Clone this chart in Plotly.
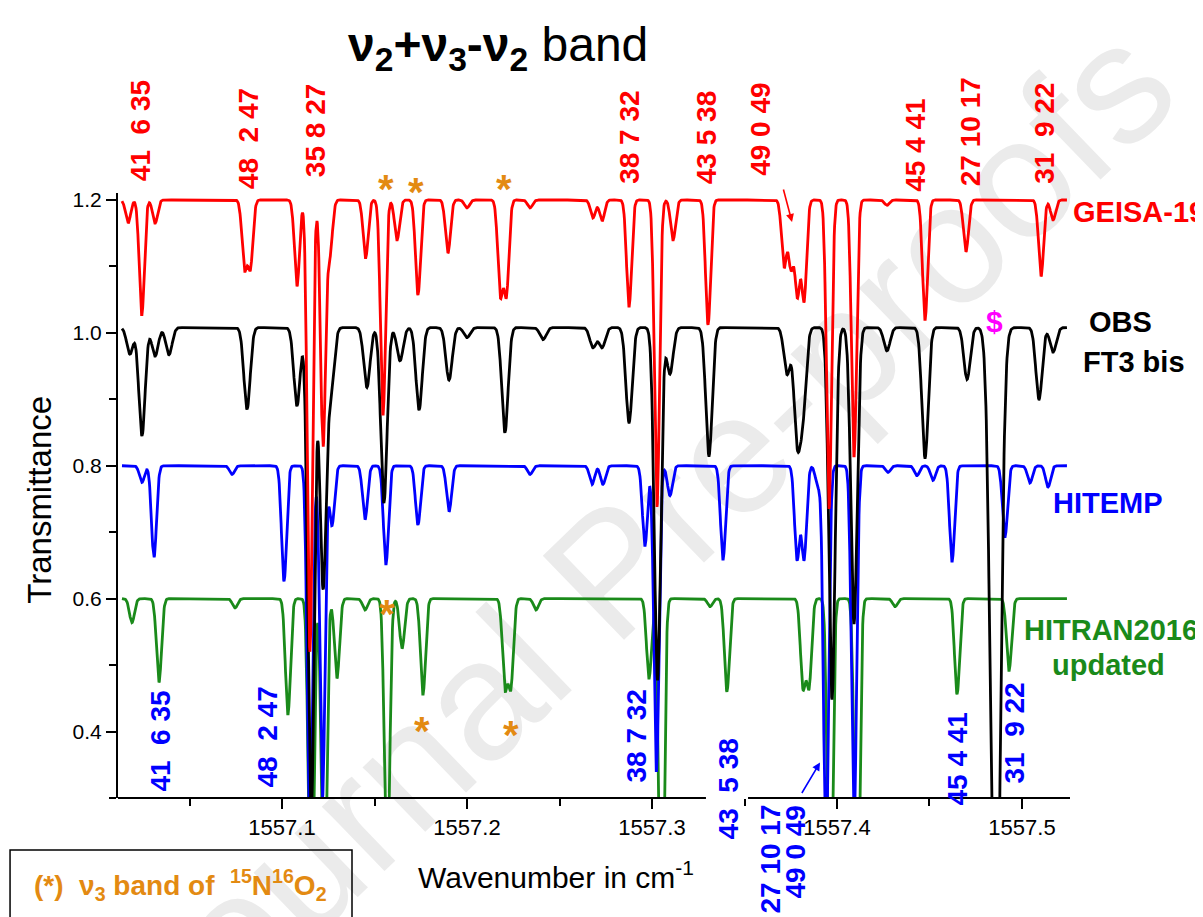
import numpy as np
import plotly.graph_objects as go

# ---------------- data ----------------
wn_start, wn_stop, wn_step = 1557.0135, 1557.5245, 0.0002

# GEISA (red), continuum 1.2
geisa_centers = [1557.0168, 1557.0242, 1557.0314, 1557.0797, 1557.0829, 1557.1081, 1557.1151,
                 1557.1222, 1557.1259, 1557.1452, 1557.1546, 1557.1622, 1557.1735, 1557.1897,
                 1557.2000, 1557.2180, 1557.2213, 1557.2341, 1557.2681, 1557.2730, 1557.2876,
                 1557.3027, 1557.3114, 1557.3303, 1557.3714, 1557.3751, 1557.3786, 1557.3822,
                 1557.3957, 1557.4092, 1557.4270, 1557.4476, 1557.4697, 1557.5103, 1557.5168]
geisa_depths = [0.035, 0.173, 0.035, 0.10, 0.10, 0.13, 0.68,
                0.37, 0.08, 0.087, 0.323, 0.06, 0.143, 0.08,
                0.012, 0.14, 0.14, 0.012, 0.027, 0.032, 0.16,
                0.462, 0.06, 0.188, 0.10, 0.10, 0.14, 0.15,
                0.465, 0.386, 0.008, 0.18, 0.078, 0.115, 0.03]

# OBS FT3 bis (black), continuum 1.008
obs_centers = [1557.0178, 1557.0243, 1557.0314, 1557.0389, 1557.0811, 1557.1081, 1557.1157,
               1557.1222, 1557.1265, 1557.1459, 1557.1551, 1557.1638, 1557.1741, 1557.1903,
               1557.2000, 1557.2205, 1557.2411, 1557.2681, 1557.2730, 1557.2876, 1557.3030,
               1557.3097, 1557.3308, 1557.3730, 1557.3784, 1557.3816, 1557.3973, 1557.4092,
               1557.4270, 1557.4476, 1557.4703, 1557.4857, 1557.5092, 1557.5168]
obs_depths = [0.04, 0.163, 0.043, 0.041, 0.123, 0.118, 0.75,
              0.39, 0.09, 0.09, 0.264, 0.05, 0.124, 0.079,
              0.015, 0.158, 0.018, 0.03, 0.03, 0.143, 0.53,
              0.07, 0.193, 0.07, 0.16, 0.12, 0.56, 0.445,
              0.035, 0.196, 0.078, 1.1, 0.108, 0.037]
obs_broad_line = 1557.4857   # the strong "$" line, broader than the others

# HITEMP (blue), continuum 0.8
hitemp_centers = [1557.0243, 1557.0308, 1557.0730, 1557.1011, 1557.1151, 1557.1219, 1557.1270,
                  1557.1449, 1557.1562, 1557.1735, 1557.1903, 1557.2341, 1557.2676, 1557.2735,
                  1557.2962, 1557.3024, 1557.3097, 1557.3384, 1557.3784, 1557.3822, 1557.3897,
                  1557.3941, 1557.4092, 1557.4276, 1557.4432, 1557.4519, 1557.4622, 1557.4908,
                  1557.5043, 1557.5141]
hitemp_depths = [0.025, 0.138, 0.013, 0.174, 0.62, 0.5, 0.09,
                 0.081, 0.148, 0.089, 0.069, 0.013, 0.028, 0.028,
                 0.12, 0.46, 0.045, 0.141, 0.14, 0.14, 0.03,
                 0.6, 0.55, 0.01, 0.015, 0.022, 0.144, 0.107,
                 0.026, 0.032]

# HITRAN2016 updated (green), continuum 0.6
hitran_centers = [1557.0189, 1557.0335, 1557.0746, 1557.1032, 1557.1157, 1557.1227, 1557.1297,
                  1557.1449, 1557.1568, 1557.1649, 1557.1762, 1557.2205, 1557.2237, 1557.2373,
                  1557.2984, 1557.3051, 1557.3314, 1557.3405, 1557.3816, 1557.3849, 1557.3962,
                  1557.4108, 1557.4314, 1557.4649, 1557.4930]
hitran_depths = [0.036, 0.126, 0.014, 0.174, 0.55, 0.5, 0.12,
                 0.017, 0.45, 0.075, 0.144, 0.13, 0.13, 0.017,
                 0.12, 0.6, 0.012, 0.14, 0.13, 0.13, 0.55,
                 0.55, 0.012, 0.144, 0.108]

continuum = {"GEISA": 1.2, "OBS": 1.008, "HITEMP": 0.8, "HITRAN": 0.6}

# assignment labels (wavenumber, transmittance position)
top_labels = ["41\u00a0\u00a06\u00a035", "48\u00a0\u00a02\u00a047", "35\u00a08\u00a027", "38\u00a07\u00a032",
              "43\u00a05\u00a038", "49\u00a00\u00a049", "45\u00a04\u00a041", "27\u00a010\u00a017", "31\u00a0\u00a09\u00a022"]
top_label_wn = [1557.0232, 1557.0816, 1557.1178, 1557.2881, 1557.3292, 1557.3589, 1557.4427, 1557.4719, 1557.5124]
top_label_y = [1.305, 1.293, 1.305, 1.295, 1.293, 1.307, 1.283, 1.302, 1.301]

bottom_labels = ["41\u00a0\u00a06\u00a035", "48\u00a0\u00a02\u00a047", "38\u00a07\u00a032", "43\u00a0\u00a05\u00a038",
                 "27\u00a010\u00a017", "49\u00a00\u00a049", "45\u00a04\u00a041", "31\u00a0\u00a09\u00a022"]
bottom_label_wn = [1557.0341, 1557.0924, 1557.2919, 1557.3411, 1557.3638, 1557.3773, 1557.4649, 1557.4962]
bottom_label_y = [0.385, 0.3925, 0.3925, 0.313, 0.2075, 0.218, 0.358, 0.3985]

star_wn = [1557.1562, 1557.1724, 1557.2200, 1557.1570, 1557.1757, 1557.2238]
star_y = [1.230, 1.226, 1.230, 0.591, 0.415, 0.409]

RED, BLACK, BLUE, GREEN = "#ff0000", "#000000", "#0000ff", "#1a8a1a"
ORANGE, MAGENTA = "#e38a12", "#ff00ff"
FONT = "Liberation Sans, Arial, sans-serif"

XR = [1557.01135, 1557.52595]
YR = [0.3, 1.2105]


def px(w):
    return (w - XR[0]) / (XR[1] - XR[0])


def py(v):
    return (v - YR[0]) / (YR[1] - YR[0])


# ---------------- build spectra ----------------
x = np.arange(wn_start, wn_stop, wn_step)


def spectrum(base, centers, depths, sigma, broad=None, broad_sigma=None):
    y = np.full_like(x, base)
    for c, d in zip(centers, depths):
        s = broad_sigma if (broad is not None and abs(c - broad) < 1e-6) else sigma
        y -= d * np.exp(-0.5 * ((x - c) / s) ** 2)
    return y


y_geisa = spectrum(continuum["GEISA"], geisa_centers, geisa_depths, 0.00135)
y_obs = spectrum(continuum["OBS"], obs_centers, obs_depths, 0.0017, obs_broad_line, 0.00246)
y_hitemp = spectrum(continuum["HITEMP"], hitemp_centers, hitemp_depths, 0.00135)
y_hitran = spectrum(continuum["HITRAN"], hitran_centers, hitran_depths, 0.00135)

fig = go.Figure()
for yy, col in [(y_hitran, GREEN), (y_hitemp, BLUE), (y_obs, BLACK), (y_geisa, RED)]:
    fig.add_trace(go.Scatter(x=x, y=yy, mode="lines", line=dict(color=col, width=2.8),
                             showlegend=False, hoverinfo="skip"))

P = dict(xref="paper", yref="paper", showarrow=False, yanchor="middle")
ann = []
for t, xw, yv in zip(top_labels, top_label_wn, top_label_y):
    ann.append(dict(P, x=px(xw), y=py(yv), text="<b>" + t + "</b>", textangle=-90,
                    font=dict(size=28, color=RED, family=FONT), xanchor="center"))
for t, xw, yv in zip(bottom_labels, bottom_label_wn, bottom_label_y):
    ann.append(dict(P, x=px(xw), y=py(yv), text="<b>" + t + "</b>", textangle=-90,
                    font=dict(size=28, color=BLUE, family=FONT), xanchor="center"))
for xw, yv in zip(star_wn, star_y):
    ann.append(dict(P, x=px(xw), y=py(yv - 0.0135), text="<b>*</b>",
                    font=dict(size=40, color=ORANGE, family=FONT), xanchor="center"))

# title
ann.append(dict(P, x=px(1557.2168), y=py(1.4286), xanchor="center",
                text="<b>\u03bd<sub>2</sub>+\u03bd<sub>3</sub>-\u03bd<sub>2</sub></b> band",
                font=dict(size=48, color="black", family=FONT)))
# series names
ann += [
    dict(P, x=px(1557.5265), y=py(1.1825), text="<b>GEISA-19</b>", xanchor="left",
         font=dict(size=29, color=RED, family=FONT)),
    dict(P, x=px(1557.553), y=py(1.0165), text="<b>OBS</b>", xanchor="center",
         font=dict(size=29, color=BLACK, family=FONT)),
    dict(P, x=px(1557.5605), y=py(0.9564), text="<b>FT3 bis</b>", xanchor="center",
         font=dict(size=29, color=BLACK, family=FONT)),
    dict(P, x=px(1557.4854), y=py(1.0165), text="<b>$</b>", xanchor="center",
         font=dict(size=30, color=MAGENTA, family=FONT)),
    dict(P, x=px(1557.5465), y=py(0.7444), text="<b>HITEMP</b>", xanchor="center",
         font=dict(size=29, color=BLUE, family=FONT)),
    dict(P, x=px(1557.5000), y=py(0.5534), text="<b>HITRAN2016</b>", xanchor="left",
         font=dict(size=29, color=GREEN, family=FONT)),
    dict(P, x=px(1557.5470), y=py(0.500), text="<b>updated</b>", xanchor="center",
         font=dict(size=29, color=GREEN, family=FONT)),
]
# arrows
ann.append(dict(x=1557.3757, y=1.1669, ax=-9, ay=-34, text="", showarrow=True, arrowhead=2,
                arrowsize=1, arrowwidth=1.6, arrowcolor=RED))
ann.append(dict(x=1557.3908, y=0.3534, ax=-19, ay=32, text="", showarrow=True, arrowhead=2,
                arrowsize=1, arrowwidth=1.6, arrowcolor=BLUE))
# axis titles
ann.append(dict(P, x=-0.0819, y=py(0.7489), text="Transmittance", textangle=-90,
                xanchor="center", font=dict(size=33, color="black", family=FONT)))
ann.append(dict(P, x=0.460, y=-0.127, text="Wavenumber in cm<sup>-1</sup>",
                xanchor="center", font=dict(size=30, color="black", family=FONT)))
# legend box text
ann.append(dict(P, x=0.066, y=-0.1438, xanchor="center",
                text="<b>(*)\u00a0\u00a0\u03bd<sub>3</sub> band of\u00a0\u00a0<sup>15</sup>N<sup>16</sup>O<sub>2</sub></b>",
                font=dict(size=28, color=ORANGE, family=FONT)))

shapes = [
    # watermark
    dict(type="rect", xref="paper", yref="paper", x0=0.53, x1=0.545, y0=0.43, y1=0.456,
         line=dict(width=0), layer="below",
         label=dict(text="Journal Pre-proofs", textangle=-44, textposition="middle center",
                    font=dict(size=170, color="#ebebeb", family=FONT))),
    # broken x-axis line
    dict(type="line", xref="paper", yref="paper", x0=0, x1=0.6176, y0=0, y1=0,
         line=dict(color="black", width=2)),
    dict(type="line", xref="paper", yref="paper", x0=0.6618, x1=1, y0=0, y1=0,
         line=dict(color="black", width=2)),
    # legend box
    dict(type="rect", xref="paper", yref="paper", x0=-0.1134, x1=0.2458, y0=-0.25, y1=-0.086,
         line=dict(color="black", width=1.5), fillcolor="rgba(0,0,0,0)"),
]

# the page adds an 8 px body margin, so the figure is 8 px smaller and margins shifted
fig.update_layout(
    width=1195, height=909,
    margin=dict(l=110, r=133, t=185, b=119),
    plot_bgcolor="white", paper_bgcolor="white",
    showlegend=False,
    annotations=ann, shapes=shapes,
    xaxis=dict(range=XR, showline=False, showgrid=False, zeroline=False,
               ticks="outside", ticklen=10, tickwidth=2, tickcolor="black",
               tick0=1557.1, dtick=0.1, tickformat=".1f",
               tickfont=dict(size=22, color="black", family=FONT),
               minor=dict(ticks="outside", ticklen=7, tickwidth=2, tickcolor="black",
                          tick0=1557.05, dtick=0.05)),
    yaxis=dict(range=YR, showline=True, linecolor="black", linewidth=2,
               showgrid=False, zeroline=False,
               ticks="outside", ticklen=10, tickwidth=2, tickcolor="black",
               tick0=0.4, dtick=0.2, tickformat=".1f",
               tickfont=dict(size=21, color="black", family=FONT),
               minor=dict(ticks="outside", ticklen=7, tickwidth=2, tickcolor="black",
                          tick0=0.3, dtick=0.1)),
)

fig.write_html("out.html")
